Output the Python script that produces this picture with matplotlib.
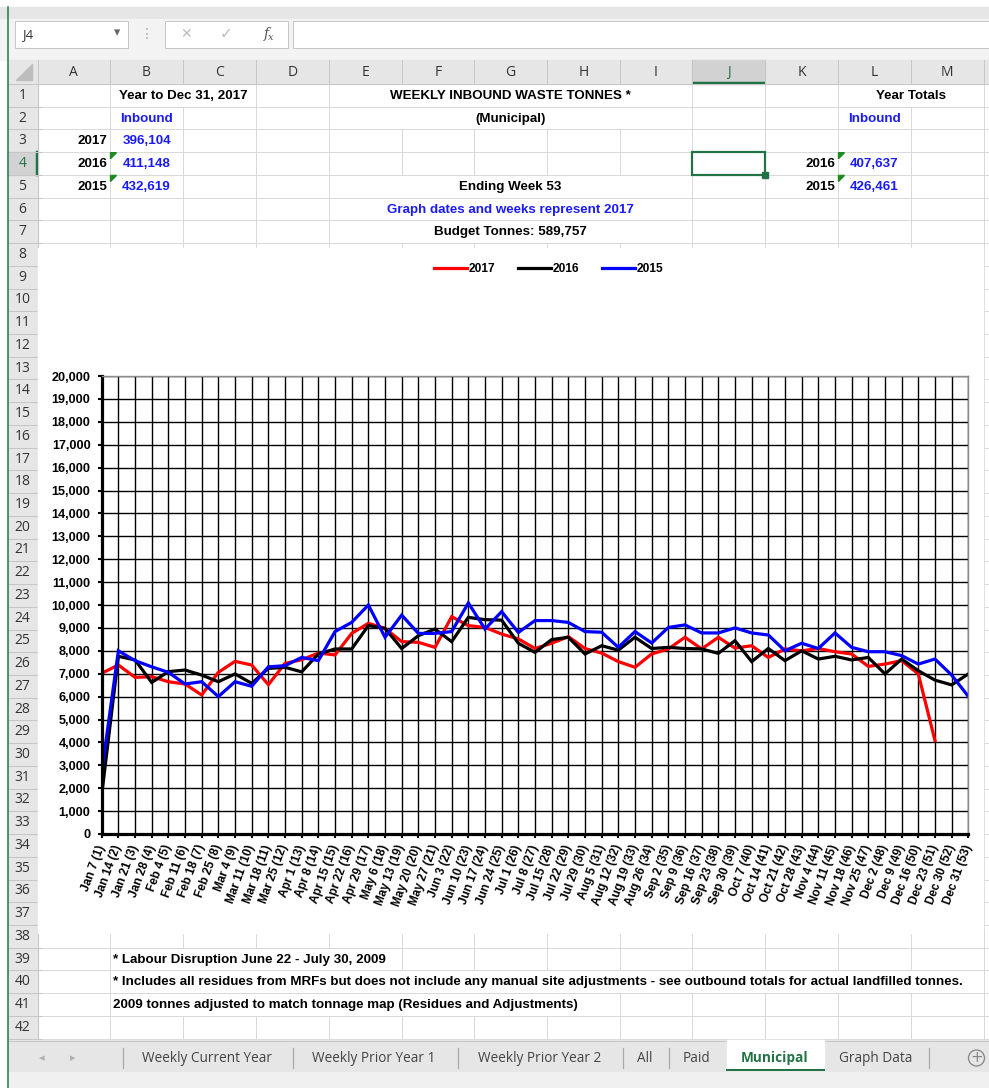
import numpy as np
import matplotlib.pyplot as plt
from matplotlib.patches import Rectangle, Polygon
from matplotlib.ticker import FuncFormatter

# weekly inbound tonnes
weeks = ['Jan 7 (1)', 'Jan 14 (2)', 'Jan 21 (3)', 'Jan 28 (4)', 'Feb 4 (5)', 'Feb 11 (6)',
         'Feb 18 (7)', 'Feb 25 (8)', 'Mar 4 (9)', 'Mar 11 (10)', 'Mar 18 (11)', 'Mar 25 (12)',
         'Apr 1 (13)', 'Apr 8 (14)', 'Apr 15 (15)', 'Apr 22 (16)', 'Apr 29 (17)', 'May 6 (18)',
         'May 13 (19)', 'May 20 (20)', 'May 27 (21)', 'Jun 3 (22)', 'Jun 10 (23)', 'Jun 17 (24)',
         'Jun 24 (25)', 'Jul 1 (26)', 'Jul 8 (27)', 'Jul 15 (28)', 'Jul 22 (29)', 'Jul 29 (30)',
         'Aug 5 (31)', 'Aug 12 (32)', 'Aug 19 (33)', 'Aug 26 (34)', 'Sep 2 (35)', 'Sep 9 (36)',
         'Sep 16 (37)', 'Sep 23 (38)', 'Sep 30 (39)', 'Oct 7 (40)', 'Oct 14 (41)', 'Oct 21 (42)',
         'Oct 28 (43)', 'Nov 4 (44)', 'Nov 11 (45)', 'Nov 18 (46)', 'Nov 25 (47)', 'Dec 2 (48)',
         'Dec 9 (49)', 'Dec 16 (50)', 'Dec 23 (51)', 'Dec 30 (52)', 'Dec 31 (53)']

tonnes_2017 = [7020, 7380, 6840, 6870, 6650, 6550, 6070, 7060, 7540, 7380, 6520, 7450, 7610,
               7900, 7820, 8760, 9200, 8980, 8400, 8370, 8150, 9490, 9100, 9020, 8730, 8520,
               8100, 8330, 8620, 8100, 7900, 7530, 7280, 7860, 8080, 8590, 8080, 8590, 8120,
               8220, 7710, 8080, 8000, 8100, 7960, 7860, 7320, 7420, 7570, 6990, 4080,
               np.nan, np.nan]
tonnes_2016 = [1700, 7760, 7600, 6620, 7090, 7160, 6940, 6650, 6990, 6580, 7230, 7280, 7080,
               7860, 8080, 8080, 9100, 8980, 8100, 8660, 8950, 8400, 9460, 9360, 9340, 8330,
               7930, 8490, 8590, 7860, 8220, 8030, 8590, 8100, 8150, 8100, 8080, 7890, 8440,
               7530, 8100, 7570, 8000, 7640, 7760, 7600, 7710, 6990, 7640, 7130, 6720,
               6510, 6990]
tonnes_2015 = [2700, 8000, 7570, 7300, 7060, 6550, 6650, 6000, 6650, 6450, 7300, 7350, 7710,
               7570, 8840, 9240, 10000, 8590, 9560, 8760, 8760, 8840, 10090, 8950, 9710, 8800,
               9320, 9320, 9240, 8840, 8810, 8150, 8840, 8340, 9020, 9130, 8780, 8780, 9000,
               8780, 8690, 8000, 8330, 8100, 8780, 8150, 7960, 7960, 7790, 7420, 7640,
               6940, 6010]

series_names = ['2017', '2016', '2015']
series_colors = ['#ff0000', '#000000', '#0000ff']

W, H = 989, 1088
RH = 22.73          # excel row height in px
ROW0 = 84           # top of row 1
col_edges = [37.5, 110, 183, 256, 329, 402, 474, 547, 620, 692, 765, 838, 911, 983.5]
col_names = list('ABCDEFGHIJKLM')
GREEN = '#217346'
BLUE_TXT = '#1a1aff'
UI_FONT = ['Open Sans', 'Noto Sans', 'DejaVu Sans']

plt.rcParams['font.family'] = ['Liberation Sans', 'DejaVu Sans']

fig = plt.figure(figsize=(W / 100, H / 100), dpi=100, facecolor='white')
bg = fig.add_axes([0, 0, 1, 1])
bg.set_xlim(0, W)
bg.set_ylim(H, 0)
bg.axis('off')


def rtop(r):
    return ROW0 + (r - 1) * RH


def rmid(r):
    return ROW0 + (r - 0.5) * RH


def px(n):
    return n * 0.72


# ---- window chrome: formula bar ----
bg.add_patch(Rectangle((0, 7), W, 12, color='#e6e6e6', zorder=0))
bg.add_patch(Rectangle((0, 19), W, 41, color='#f3f3f3', zorder=0))
bg.add_patch(Rectangle((15, 21), 113, 27, fc='white', ec='#c6c6c6', lw=px(1), zorder=1))
bg.text(22, 34.5, 'J4', fontsize=9.5, va='center', family=UI_FONT, color='#333333')
bg.text(117, 33, '\u25be', fontsize=9, ha='center', va='center', color='#666666', family=['DejaVu Sans'])
bg.text(147, 34, '\u22ee', fontsize=10, ha='center', va='center', color='#aaaaaa', family=['DejaVu Sans'])
bg.add_patch(Rectangle((165, 21), 123, 27, fc='white', ec='#c6c6c6', lw=px(1), zorder=1))
bg.text(186, 34, '\u2715', fontsize=10, ha='center', va='center', color='#bbbbbb', family=['DejaVu Sans'])
bg.text(226, 34, '\u2713', fontsize=11, ha='center', va='center', color='#bbbbbb', family=['DejaVu Sans'])
bg.text(266, 34, 'f', fontsize=10, ha='center', va='center', color='#555555', style='italic',
        family=['DejaVu Serif'])
bg.text(271, 37, 'x', fontsize=7, ha='center', va='center', color='#555555', style='italic',
        family=['DejaVu Serif'])
bg.add_patch(Rectangle((293, 21), W - 293, 27, fc='white', ec='#c6c6c6', lw=px(1), zorder=1))

# ---- column headers ----
bg.add_patch(Rectangle((8, 60), W, 24, color='#e6e6e6', zorder=1))
bg.add_patch(Polygon([[32, 64], [32, 80], [16, 80]], closed=True, color='#bdbdbd', zorder=2))
for i, name in enumerate(col_names):
    x0, x1 = col_edges[i], col_edges[i + 1]
    if name == 'J':
        bg.add_patch(Rectangle((x0, 60), x1 - x0, 24, color='#d2d2d2', zorder=1.5))
        bg.plot([x0, x1], [83, 83], color=GREEN, lw=px(2.5), zorder=2, solid_capstyle='butt')
    bg.text((x0 + x1) / 2, 72.5, name, fontsize=10, ha='center', va='center', family=UI_FONT,
            color=GREEN if name == 'J' else '#333333', zorder=3)
for x in col_edges:
    bg.plot([x, x], [60, 84], color='#c6c6c6', lw=px(1), zorder=2)
bg.plot([8, W], [84, 84], color='#c6c6c6', lw=px(1), zorder=2)

# ---- row headers ----
bg.add_patch(Rectangle((8, 84), 29.5, rtop(43) - 84, color='#e6e6e6', zorder=1))
bg.add_patch(Rectangle((8, rtop(4)), 29.5, RH, color='#d2d2d2', zorder=1.5))
bg.plot([37, 37], [rtop(4), rtop(5)], color=GREEN, lw=px(2.5), zorder=2)
for r in range(1, 43):
    bg.text(22.5, rmid(r), str(r), fontsize=10, ha='center', va='center', family=UI_FONT,
            color=GREEN if r == 4 else '#333333', zorder=3)
    bg.plot([8, 41], [rtop(r + 1), rtop(r + 1)], color='#c6c6c6', lw=px(1), zorder=2)
bg.plot([37.5, 37.5], [84, rtop(43)], color='#c6c6c6', lw=px(1), zorder=2)

# ---- cell grid ----
GRID = '#d9d9d9'
for r in range(1, 43):
    bg.plot([37.5, W], [rtop(r + 1), rtop(r + 1)], color=GRID, lw=px(1), zorder=1)
hidden = {1: [183, 402, 474, 547, 620, 911], 2: [402, 474, 547, 620],
          5: [402, 474, 547, 620], 6: [402, 474, 547, 620], 7: [402, 474, 547, 620],
          39: [183, 256, 329], 40: col_edges[2:-1], 41: [183, 256, 329, 402, 474, 547]}
for r in range(1, 43):
    for x in col_edges[1:]:
        if x in hidden.get(r, []):
            continue
        bg.plot([x, x], [rtop(r), rtop(r + 1)], color=GRID, lw=px(1), zorder=1)

# chart area covers the cells
bg.add_patch(Rectangle((38, 248), 983 - 38, 933 - 248, color='white', zorder=2))

# selected cell J4
bg.add_patch(Rectangle((692, rtop(4)), 73, RH, fill=False, ec=GREEN, lw=px(2.2), zorder=4))
bg.add_patch(Rectangle((762, rtop(5) - 3), 6, 6, color=GREEN, zorder=4))

# green error triangles
for x0, r in [(110.5, 4), (110.5, 5), (838.5, 4), (838.5, 5)]:
    y0 = rtop(r) + 0.5
    bg.add_patch(Polygon([[x0, y0], [x0 + 6, y0], [x0, y0 + 6]], closed=True, color='#1f8a1f', zorder=4))

# ---- cell texts ----
CF = 9.65
def cell(x, r, s, ha='center', color='black'):
    bg.text(x, rmid(r) + 0.5, s, fontsize=CF, fontweight='bold', ha=ha, va='center',
            color=color, zorder=5)

cell(183, 1, 'Year to Dec 31, 2017')
cell(510.5, 1, 'WEEKLY INBOUND WASTE TONNES *')
cell(911, 1, 'Year Totals')
cell(146.5, 2, 'Inbound', color=BLUE_TXT)
cell(510.5, 2, '(Municipal)')
cell(874.5, 2, 'Inbound', color=BLUE_TXT)
for r, yr, val in [(3, '2017', '396,104'), (4, '2016', '411,148'), (5, '2015', '432,619')]:
    cell(107, r, yr, ha='right')
    cell(146.5, r, val, color=BLUE_TXT)
for r, yr, val in [(4, '2016', '407,637'), (5, '2015', '426,461')]:
    cell(835, r, yr, ha='right')
    cell(874.5, r, val, color=BLUE_TXT)
cell(510.5, 5, 'Ending Week 53')
cell(510.5, 6, 'Graph dates and weeks represent 2017', color=BLUE_TXT)
cell(510.5, 7, 'Budget Tonnes: 589,757')
cell(113, 39, '* Labour Disruption June 22 - July 30, 2009', ha='left')
cell(113, 40, '* Includes all residues from MRFs but does not include any manual site '
              'adjustments - see outbound totals for actual landfilled tonnes.', ha='left')
cell(113, 41, '2009 tonnes adjusted to match tonnage map (Residues and Adjustments)', ha='left')

# ---- sheet tabs ----
bg.add_patch(Rectangle((8, 1040), W, 32, color='#e6e6e6', zorder=1))
bg.add_patch(Rectangle((8, 1072), W, 16, color='#f0f0f0', zorder=1))
bg.plot([8, W], [1040.5, 1040.5], color='#c6c6c6', lw=px(1), zorder=2)
bg.add_patch(Rectangle((727, 1040), 97, 30, color='white', zorder=2))
bg.plot([727, 824], [1069.5, 1069.5], color=GREEN, lw=px(2), zorder=3)
bg.text(42, 1058, '\u25c2', fontsize=8, ha='center', va='center', color='#b0b0b0', family=['DejaVu Sans'])
bg.text(73, 1058, '\u25b8', fontsize=8, ha='center', va='center', color='#b0b0b0', family=['DejaVu Sans'])
for x in [122.7, 292.7, 457.7, 622.7, 669.3, 929.3]:
    bg.plot([x, x], [1048, 1068], color='#a8a8a8', lw=px(1.2), zorder=3)
tabs = [(207, 'Weekly Current Year'), (374, 'Weekly Prior Year 1'), (540, 'Weekly Prior Year 2'),
        (645, 'All'), (697, 'Paid'), (775, 'Municipal'), (876, 'Graph Data')]
for x, s in tabs:
    active = s == 'Municipal'
    bg.text(x, 1058, s, fontsize=9.8, ha='center', va='center', family=UI_FONT,
            color=GREEN if active else '#444444', fontweight='bold' if active else 'normal', zorder=4)
bg.add_patch(plt.Circle((976.5, 1058), 8, fill=False, ec='#888888', lw=px(1.3), zorder=4))
bg.text(976.5, 1058, '+', fontsize=11, ha='center', va='center', color='#888888', zorder=5,
        family=['DejaVu Sans'])
# window edge
bg.plot([7.5, 7.5], [7, H], color=GREEN, lw=px(1.5), zorder=6)

# ---- the chart itself ----
L, R, T, B = 101.7, 968.3, 376, 834
ax = fig.add_axes([L / W, 1 - B / H, (R - L) / W, (B - T) / H])
ax.set_facecolor('white')
x = np.arange(len(weeks))
for vals, name, c in zip([tonnes_2017, tonnes_2016, tonnes_2015], series_names, series_colors):
    ax.plot(x, vals, color=c, lw=2.3, label=name, solid_joinstyle='miter')

ax.set_xlim(0, len(weeks) - 1)
ax.set_ylim(0, 20000)
ax.set_yticks(np.arange(0, 20001, 1000))
ax.yaxis.set_major_formatter(FuncFormatter(lambda v, p: f'{int(v):,}'))
ax.set_xticks(x)
ax.set_xticklabels(weeks, rotation=70, ha='right', va='center', rotation_mode='anchor')
for lab in ax.get_xticklabels():
    lab.set_fontsize(8.6)
    lab.set_fontweight('bold')
for lab in ax.get_yticklabels():
    lab.set_fontsize(9.1)
    lab.set_fontweight('bold')
ax.set_axisbelow(True)
ax.grid(True, color='black', lw=1.0)
ax.tick_params(axis='y', direction='out', length=3, width=1.5, pad=5)
ax.tick_params(axis='x', direction='out', length=3, width=1.5, pad=5)
for side in ['left', 'bottom']:
    ax.spines[side].set_linewidth(2.3)
    ax.spines[side].set_color('black')
for side in ['top', 'right']:
    ax.spines[side].set_linewidth(1.0)
    ax.spines[side].set_color('#8c8c8c')

fig.legend(loc='center', bbox_to_anchor=(549 / W, 1 - 269 / H), ncol=3, frameon=False,
           prop={'size': 8.6, 'weight': 'bold'}, handlelength=2.7, handletextpad=0.2,
           columnspacing=1.9)

plt.savefig('out.png', dpi=100)
plt.close()
